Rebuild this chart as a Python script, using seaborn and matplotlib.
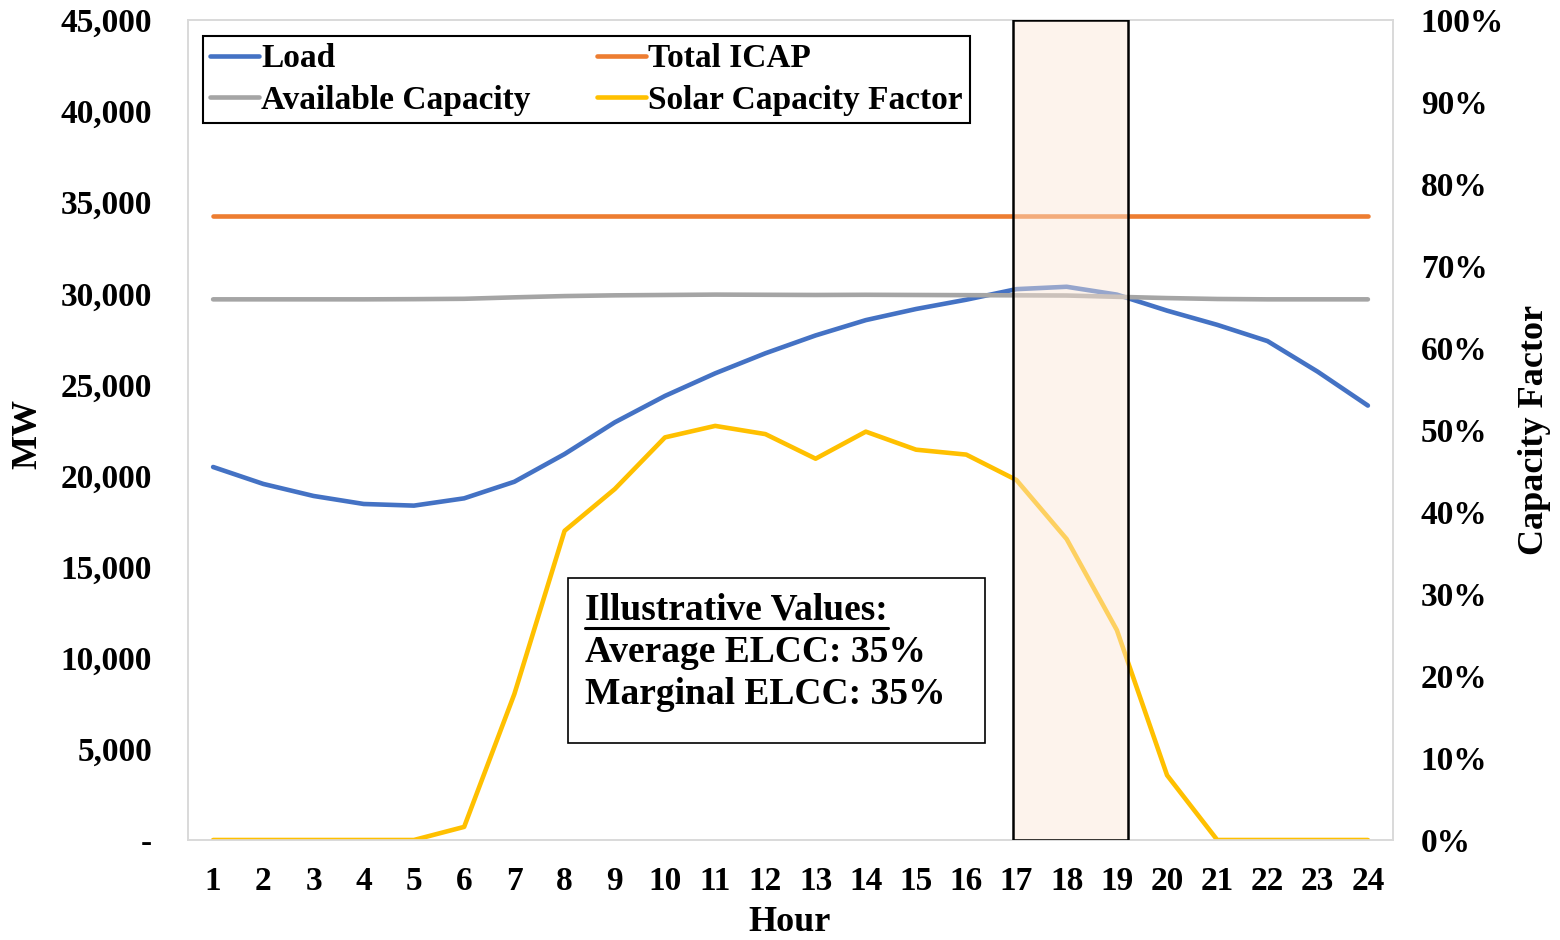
import matplotlib
matplotlib.use('Agg')
import matplotlib.pyplot as plt
import matplotlib.ticker as mticker
from matplotlib.patches import Rectangle
from matplotlib.lines import Line2D
import seaborn as sns
import pandas as pd

# Data
hours = list(range(1, 25))
load_mw = [20470, 19540, 18880, 18440, 18350, 18750, 19660, 21180, 22920, 24370,
           25610, 26710, 27690, 28530, 29140, 29650, 30230, 30360, 29930, 29050,
           28270, 27380, 25700, 23840]
total_icap_mw = [34250] * 24
available_mw = [29670, 29670, 29670, 29670, 29680, 29700, 29780, 29850, 29890, 29910,
                29930, 29920, 29910, 29920, 29910, 29900, 29890, 29880, 29810, 29740,
                29690, 29670, 29670, 29670]
solar_cf = [0.0, 0.0, 0.0, 0.0, 0.0, 0.016, 0.178, 0.377, 0.428, 0.491,
            0.505, 0.495, 0.465, 0.498, 0.476, 0.470, 0.439, 0.367, 0.256, 0.079,
            0.0, 0.0, 0.0, 0.0]
highlight_hours = (16.94, 19.23)
note_lines = ['Illustrative Values:', 'Average ELCC: 35%', 'Marginal ELCC: 35%']

colors = {'Load': '#4472C4', 'Total ICAP': '#ED7D31',
          'Available Capacity': '#A5A5A5', 'Solar Capacity Factor': '#FFC000'}

df = pd.DataFrame({'Hour': hours, 'Load': load_mw, 'Total ICAP': total_icap_mw,
                   'Available Capacity': available_mw})
mw_long = df.melt(id_vars='Hour', var_name='Series', value_name='MW')
solar_df = pd.DataFrame({'Hour': hours, 'CF': solar_cf})

sns.set_theme(style='white')
plt.rcParams['font.family'] = ['Liberation Serif', 'DejaVu Serif']
plt.rcParams['font.weight'] = 'bold'
for key in ['text.color', 'axes.labelcolor', 'xtick.color', 'ytick.color']:
    plt.rcParams[key] = 'black'

fig = plt.figure(figsize=(15.6, 9.4), dpi=100)
ax = fig.add_axes([188 / 1560, 1 - 840 / 940, 1205 / 1560, 820 / 940])
ax2 = ax.twinx()

sns.lineplot(data=mw_long, x='Hour', y='MW', hue='Series', palette=colors,
             linewidth=3.3, ax=ax, legend=False, solid_capstyle='round')
sns.lineplot(data=solar_df, x='Hour', y='CF', color=colors['Solar Capacity Factor'],
             linewidth=3.3, ax=ax2, legend=False, solid_capstyle='round')

ax.set_xlim(0.5, 24.5)
ax.set_ylim(0, 45000)
ax2.set_ylim(0, 1)
ax.set_xticks(hours)
ax.set_yticks(range(0, 45001, 5000))
ax2.set_yticks([i / 10 for i in range(11)])
ax.yaxis.set_major_formatter(mticker.FuncFormatter(lambda v, p: '-' if v == 0 else f'{v:,.0f}'))
ax2.yaxis.set_major_formatter(mticker.FuncFormatter(lambda v, p: f'{v:.0%}'))

ax.tick_params(axis='y', length=0, pad=26, labelsize=24)
ax.tick_params(axis='x', length=0, pad=19, labelsize=24)
ax2.tick_params(axis='y', length=0, pad=20, labelsize=24)
for a in (ax, ax2):
    for t in a.get_xticklabels() + a.get_yticklabels():
        t.set_fontweight('bold')
    for s in a.spines.values():
        s.set_color('#D9D9D9')
        s.set_linewidth(1.2)

ax.set_xlabel('Hour', fontsize=26, fontweight='bold')
ax.set_ylabel('MW', fontsize=26, fontweight='bold')
ax2.set_ylabel('Capacity Factor', fontsize=26, fontweight='bold')
ax.xaxis.set_label_coords(0.4996, -0.081)
ax.yaxis.set_label_coords(-0.1195, 0.495)
ax2.yaxis.set_label_coords(1.1037, 0.5)

# highlighted peak window drawn over the lines
ax2.add_patch(Rectangle((highlight_hours[0], 0), highlight_hours[1] - highlight_hours[0], 1,
                        transform=ax2.get_xaxis_transform(),
                        facecolor=(251 / 255, 229 / 255, 214 / 255, 0.45),
                        edgecolor='black', linewidth=1.8, zorder=5))

# legend
labels = ['Load', 'Available Capacity', 'Total ICAP', 'Solar Capacity Factor']
handles = [Line2D([], [], color=colors[k], linewidth=3.3, solid_capstyle='round')
           for k in labels]
leg = ax2.legend(handles, labels, ncol=2, loc='upper left',
                 bbox_to_anchor=((203 - 188) / 1205, (840 - 36) / 820),
                 frameon=True, fancybox=False, framealpha=1, edgecolor='black',
                 handlelength=1.47, handletextpad=0.05, columnspacing=2.0,
                 labelspacing=0.32, borderpad=0.22, borderaxespad=0,
                 prop={'size': 24, 'weight': 'bold'})
leg.get_frame().set_linewidth(1.5)
leg.set_zorder(10)

# illustrative values box
ax2.add_patch(Rectangle(((568 - 188) / 1205, (840 - 743) / 820), (985 - 568) / 1205,
                        (743 - 578) / 820, transform=ax2.transAxes, facecolor='white',
                        edgecolor='black', linewidth=1.2, zorder=6))
note_y = [(840 - 610) / 820, (840 - 653) / 820, (840 - 694) / 820]
note_texts = []
for line, y in zip(note_lines, note_y):
    note_texts.append(ax2.text((585 - 188) / 1205, y, line, transform=ax2.transAxes,
                               fontsize=27, fontweight='bold', va='center', ha='left',
                               zorder=7))

fig.canvas.draw()
bb = note_texts[0].get_window_extent()
inv = fig.transFigure.inverted()
(x0, y0), (x1, _) = inv.transform([(bb.x0, bb.y0 - 1), (bb.x1, bb.y0)])
fig.add_artist(Line2D([x0, x1], [y0, y0], transform=fig.transFigure, color='black',
                      linewidth=2.2, zorder=8))

fig.savefig('out.png', dpi=100)
